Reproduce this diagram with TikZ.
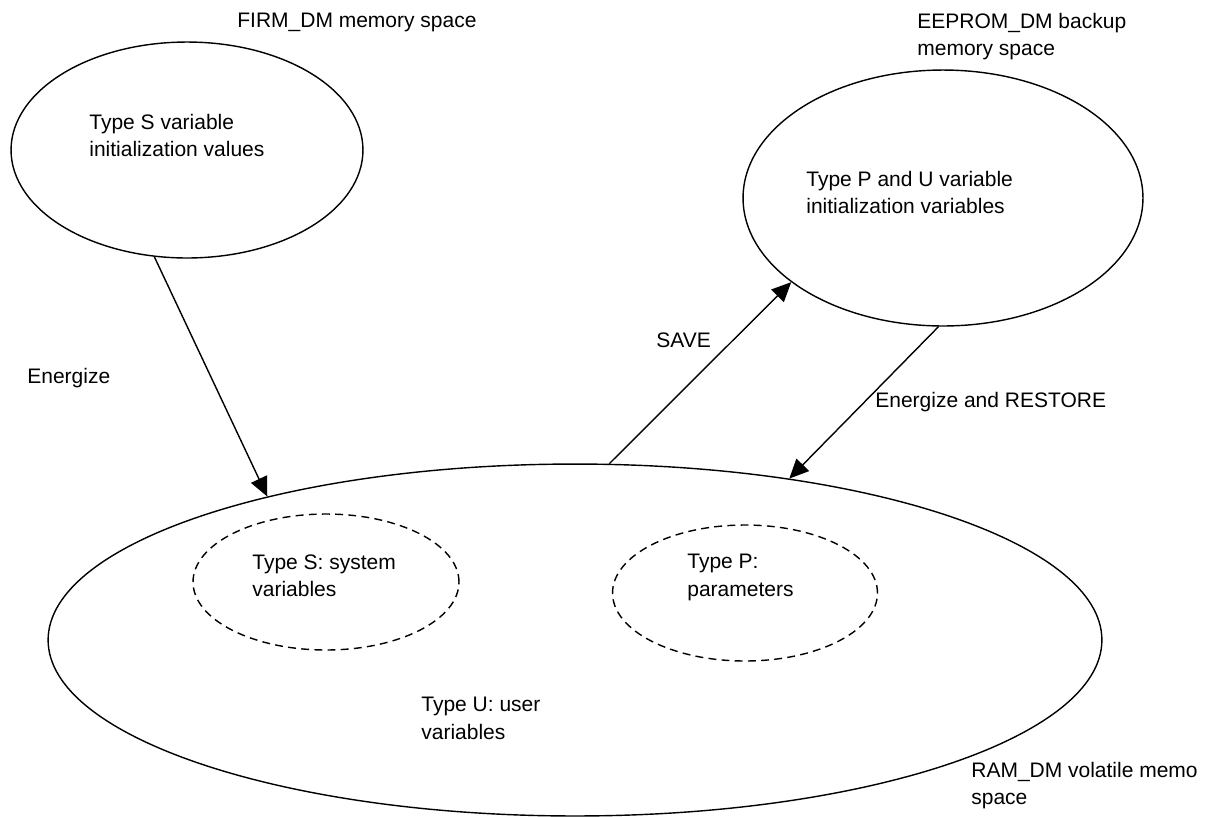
\documentclass[tikz,border=0pt]{standalone}
\usepackage{fontspec}
\setmainfont{Liberation Sans}
\usetikzlibrary{shapes.geometric, arrows.meta}

\tikzset{
  memspace/.style={draw, ellipse, line width=0.8pt, inner sep=0pt},
  varset/.style={memspace, dash pattern=on 4.5pt off 3pt},
  txt/.style={font=\fontsize{11.95}{15.6}\selectfont, anchor=north west, inner sep=0pt, align=left},
  flow/.style={-{Triangle[length=11pt, width=10pt]}, line width=0.8pt},
}

\begin{document}
\begin{tikzpicture}[x=0.02cm, y=-0.02cm]
        \clip (0,0) rectangle (1207,816);

        % ---- MEMORY SPACES ----
        \node[memspace, minimum width=7.04cm, minimum height=4.32cm] (firm) at (187,150) {};
        \node[memspace, minimum width=8cm, minimum height=5.12cm] (eeprom) at (943,198) {};
        \node[memspace, minimum width=21.08cm, minimum height=7.04cm] (ram) at (575,640) {};

        % variable groups inside RAM_DM
        \node[varset, minimum width=5.32cm, minimum height=2.72cm] (sysvars) at (326,582) {};
        \node[varset, minimum width=5.3cm, minimum height=2.72cm] (params) at (745,593) {};

        % ---- TEXTS ----
        \node[txt] (firmname) at (237,13) {FIRM\_DM memory space};
        \node[txt] (firmtext) at (89,114) {Type S variable\\initialization values};
        \node[txt] (eepromname) at (917,13) {EEPROM\_DM backup\\memory space};
        \node[txt] (eepromtext) at (806,171) {Type P and U variable\\initialization variables};
        \node[txt] (ramname) at (971,762) {RAM\_DM volatile memo\\space};
        \node[txt] (systext) at (252,554) {Type S: system\\variables};
        \node[txt] (paramtext) at (687,554) {Type P:\\parameters};
        \node[txt] (usertext) at (421,697) {Type U: user\\variables};

        % ---- TRANSFERS ----
        \draw[flow] (firm.-107) -- (ram.155);
        \draw[flow] (ram.79) -- (eeprom.-151);
        \draw[flow] (eeprom.-92) -- (ram.37);
        \node[txt] (energize) at (27,368) {Energize};
        \node[txt] (save) at (656,332) {SAVE};
        \node[txt] (restore) at (875,392) {Energize and RESTORE};
      \end{tikzpicture}
\end{document}
